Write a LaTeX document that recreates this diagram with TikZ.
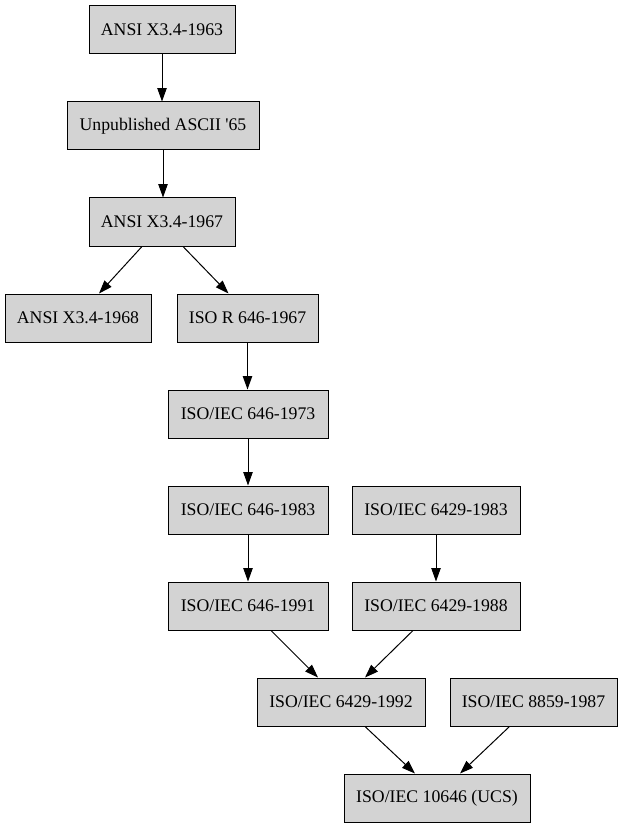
\documentclass[tikz,border=0pt]{standalone}
\usepackage{fontspec}
\setmainfont{Liberation Serif}
\usetikzlibrary{arrows.meta}
\definecolor{boxgray}{HTML}{D3D3D3}
\begin{document}
\begin{tikzpicture}[x=0.75pt,y=-0.75pt,
  box/.style={draw=black, fill=boxgray, line width=0.75pt, minimum height=36pt, inner sep=0pt, font=\fontsize{13.3}{16}\selectfont},
  arr/.style={draw=black, line width=0.75pt, -{Triangle[length=10pt,width=7pt]}}]
\useasboundingbox (0,0) rectangle (623,827);
\node[box, minimum width=109.5pt] (n1) at (162,30) {ANSI X3.4-1963};
\node[box, minimum width=144pt] (n2) at (163,126) {Unpublished ASCII \textquotesingle 65};
\node[box, minimum width=109.5pt] (n3) at (162,222) {ANSI X3.4-1967};
\node[box, minimum width=109.5pt] (n4) at (78,318) {ANSI X3.4-1968};
\node[box, minimum width=105.75pt] (n5) at (247.5,318) {ISO R 646-1967};
\node[box, minimum width=120pt] (n6) at (248,414) {ISO/IEC 646-1973};
\node[box, minimum width=120pt] (n7) at (248,510) {ISO/IEC 646-1983};
\node[box, minimum width=126pt] (n8) at (436,510) {ISO/IEC 6429-1983};
\node[box, minimum width=120pt] (n9) at (248,606) {ISO/IEC 646-1991};
\node[box, minimum width=126pt] (n10) at (436,606) {ISO/IEC 6429-1988};
\node[box, minimum width=126pt] (n11) at (341,702) {ISO/IEC 6429-1992};
\node[box, minimum width=125.25pt] (n12) at (533.5,702) {ISO/IEC 8859-1987};
\node[box, minimum width=139.5pt] (n13) at (437,798) {ISO/IEC 10646 (UCS)};
\draw[arr] (n1.south) -- (n1.south |- n2.north);
\draw[arr] (n2.south) -- (n2.south |- n3.north);
\draw[arr] ([xshift=-15pt]n3.south) -- ([xshift=15.75pt]n4.north);
\draw[arr] ([xshift=15.75pt]n3.south) -- ([xshift=-14.25pt]n5.north);
\draw[arr] (n5.south) -- (n5.south |- n6.north);
\draw[arr] (n6.south) -- (n7.north);
\draw[arr] (n7.south) -- (n9.north);
\draw[arr] (n8.south) -- (n10.north);
\draw[arr] ([xshift=17.25pt]n9.south) -- ([xshift=-17.25pt]n11.north);
\draw[arr] ([xshift=-17.25pt]n10.south) -- ([xshift=18pt]n11.north);
\draw[arr] ([xshift=18pt]n11.south) -- ([xshift=-16.5pt]n13.north);
\draw[arr] ([xshift=-18pt]n12.south) -- ([xshift=17.25pt]n13.north);
\end{tikzpicture}
\end{document}
